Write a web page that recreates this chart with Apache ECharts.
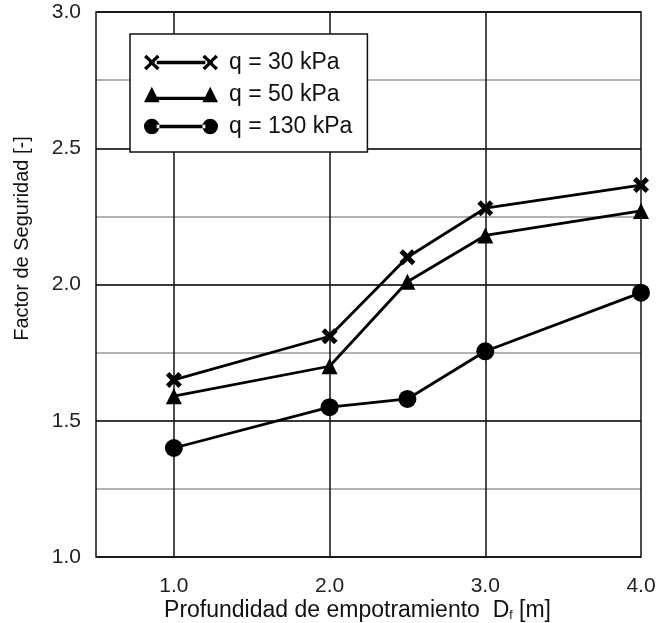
<!DOCTYPE html>
<html>
<head>
<meta charset="utf-8">
<script src="https://cdn.jsdelivr.net/npm/echarts@6/dist/echarts.min.js"></script>
<style>
  html, body { margin: 0; padding: 0; background: #fff; }
  #chart { width: 657px; height: 623px; }
</style>
</head>
<body>
<div id="chart"></div>
<script>
const depths = [1.0, 2.0, 2.5, 3.0, 4.0];
const seriesNames = ['q = 30 kPa', 'q = 50 kPa', 'q = 130 kPa'];
const fs30 = [1.65, 1.81, 2.10, 2.28, 2.365];
const fs50 = [1.59, 1.70, 2.01, 2.18, 2.27];
const fs130 = [1.40, 1.55, 1.58, 1.755, 1.97];
const xTicks = [1.0, 2.0, 3.0, 4.0];
const yTicks = [1.0, 1.5, 2.0, 2.5, 3.0];

const font = '"Liberation Sans", Arial, Helvetica, sans-serif';

// marker shapes
const crossPath = 'path://M2.6,0 L6,3.4 L9.4,0 L12,2.6 L8.6,6 L12,9.4 L9.4,12 L6,8.6 L2.6,12 L0,9.4 L3.4,6 L0,2.6 Z';

// legend icons: marker - line - marker, drawn in a 74x16 box
const legendCross = 'path://M1.5,0 L7,5.5 L12.5,0 L15,2.5 L10,7 L10,9 L15,13.5 L12.5,16 L7,10.5 L1.5,16 L-1,13.5 L4,9 L4,7 L-1,2.5 Z'
    + ' M12,6.3 L62,6.3 L62,9.7 L12,9.7 Z'
    + ' M61.5,0 L67,5.5 L72.5,0 L75,2.5 L70,7 L70,9 L75,13.5 L72.5,16 L67,10.5 L61.5,16 L59,13.5 L64,9 L64,7 L59,2.5 Z';
const legendTri = 'path://M7,0 L15,16 L-1,16 Z M10,10.3 L64,10.3 L64,13.7 L10,13.7 Z M67,0 L75,16 L59,16 Z';
const legendCircle = 'path://M-1,8 A8,8 0 1 0 15,8 A8,8 0 1 0 -1,8 Z M12,6.3 L62,6.3 L62,9.7 L12,9.7 Z M59,8 A8,8 0 1 0 75,8 A8,8 0 1 0 59,8 Z';

const pairs = vals => depths.map((d, i) => [d, vals[i]]);

const chart = echarts.init(document.getElementById('chart'));

const lineSeries = (name, vals, symbol, size) => ({
    name: name,
    type: 'line',
    xAxisIndex: 0,
    yAxisIndex: 1,
    data: pairs(vals),
    symbol: symbol,
    symbolSize: size,
    showAllSymbol: true,
    lineStyle: { color: '#000', width: 2.8 },
    itemStyle: { color: '#000' },
    z: 5
});

chart.setOption({
    animation: false,
    backgroundColor: '#fff',
    textStyle: { fontFamily: font },
    grid: {
        left: 96, top: 12, right: 16, bottom: 66,
        outerBoundsMode: 'none',
        show: true, borderColor: '#111', borderWidth: 1.5, backgroundColor: 'transparent', z: 3
    },
    legend: {
        orient: 'vertical',
        left: 130,
        top: 34,
        padding: [17, 15, 14, 14],
        backgroundColor: '#fff',
        borderColor: '#111',
        borderWidth: 1.5,
        borderRadius: 0,
        itemWidth: 74,
        itemHeight: 16,
        itemGap: 9,
        z: 10,
        textStyle: { fontSize: 23, color: '#111', fontFamily: font, padding: [0, 0, 0, 6] },
        data: [
            { name: seriesNames[0], icon: legendCross },
            { name: seriesNames[1], icon: legendTri },
            { name: seriesNames[2], icon: legendCircle }
        ]
    },
    xAxis: [{
        type: 'value',
        min: 0.5,
        max: 4.0,
        interval: 0.5,
        name: '{n|Profundidad de empotramiento  D}{s|f}{n| [m]}',
        nameLocation: 'middle',
        nameGap: 42,
        nameMoveOverlap: false,
        nameTextStyle: {
            padding: [0, 22, 0, 0],
            rich: {
                n: { fontSize: 23, color: '#111', fontFamily: font },
                s: { fontSize: 12, color: '#111', fontFamily: font, verticalAlign: 'bottom', padding: [10, 0, 0, 0] }
            }
        },
        axisLine: { show: false },
        axisTick: { show: false, customValues: [1.0, 2.0, 3.0] },
        axisLabel: {
            customValues: xTicks,
            fontSize: 21, color: '#222', margin: 19,
            formatter: v => v.toFixed(1)
        },
        splitLine: { show: true, lineStyle: { color: '#111', width: 1.5 } }
    }],
    yAxis: [{
        type: 'value',
        min: 1.0,
        max: 3.0,
        interval: 0.25,
        axisLine: { show: false },
        axisTick: { show: false },
        axisLabel: { show: false },
        splitLine: { show: true, lineStyle: { color: '#9a9a9a', width: 1.5 } }
    }, {
        type: 'value',
        min: 1.0,
        max: 3.0,
        interval: 0.5,
        position: 'left',
        name: 'Factor de Seguridad [-]',
        nameLocation: 'middle',
        nameGap: 64,
        nameMoveOverlap: false,
        nameTextStyle: { fontSize: 20, color: '#111', fontFamily: font, padding: [0, 0, 0, 92] },
        axisLine: { show: false },
        axisTick: { show: false },
        axisLabel: {
            fontSize: 21, color: '#222', margin: 15,
            formatter: v => yTicks.includes(v) ? v.toFixed(1) : ''
        },
        splitLine: { show: true, lineStyle: { color: '#111', width: 1.5 } }
    }],
    series: [
        lineSeries(seriesNames[0], fs30, crossPath, 16),
        lineSeries(seriesNames[1], fs50, 'triangle', 16),
        lineSeries(seriesNames[2], fs130, 'circle', 18)
    ]
});
</script>
</body>
</html>
